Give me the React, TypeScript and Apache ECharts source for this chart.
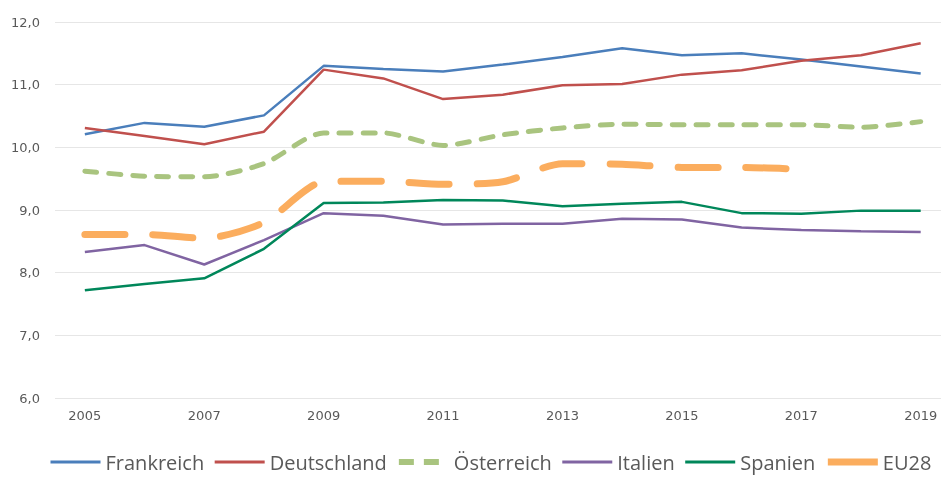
import React, { useEffect, useRef } from "react";
import * as echarts from "echarts";

const years = [2005, 2006, 2007, 2008, 2009, 2010, 2011, 2012, 2013, 2014, 2015, 2016, 2017, 2018, 2019];
const yearLabels = [2005, 2007, 2009, 2011, 2013, 2015, 2017, 2019];
const frankreich = [10.21, 10.39, 10.33, 10.51, 11.3, 11.25, 11.21, 11.32, 11.44, 11.58, 11.47, 11.5, 11.4, 11.29, 11.18];
const deutschland = [10.31, 10.18, 10.05, 10.25, 11.24, 11.1, 10.77, 10.84, 10.99, 11.01, 11.16, 11.23, 11.38, 11.47, 11.66];
const oesterreich = [9.62, 9.54, 9.53, 9.74, 10.23, 10.23, 10.03, 10.2, 10.31, 10.37, 10.36, 10.36, 10.36, 10.32, 10.41];
const italien = [8.33, 8.44, 8.13, 8.52, 8.95, 8.91, 8.77, 8.78, 8.78, 8.86, 8.85, 8.72, 8.68, 8.66, 8.65];
const spanien = [7.72, 7.82, 7.91, 8.38, 9.11, 9.12, 9.16, 9.15, 9.06, 9.1, 9.13, 8.95, 8.94, 8.99, 8.99];
const eu28 = [8.61, 8.61, 8.55, 8.8, 9.45, 9.46, 9.41, 9.45, 9.74, 9.73, 9.68, 9.68, 9.65, null, null];

const pairs = (vals: (number | null)[]) =>
  vals.map((v, i) => [years[i], v]).filter((p) => p[1] !== null);

export default function App() {
  const ref = useRef<HTMLDivElement>(null);
  useEffect(() => {
    if (!ref.current) return;
    const chart = echarts.init(ref.current, undefined, { renderer: "svg" });
    const solid = (name: string, data: (number | null)[], color: string) => ({
      name,
      type: "line",
      data: pairs(data),
      symbol: "none",
      lineStyle: { color, width: 2.5 },
      itemStyle: { color },
    });
    chart.setOption({
      animation: false,
      grid: { left: 55, right: 0, top: 22, bottom: 79 },
      xAxis: {
        type: "value",
        min: 2004.5,
        max: 2019.34,
        splitLine: { show: false },
        axisLine: { show: false },
        axisTick: { show: false },
        axisLabel: {
          customValues: yearLabels,
          margin: 11,
          color: "#595959",
          fontSize: 13,
          fontFamily: "DejaVu Sans",
          formatter: (v: number) => String(v),
        },
      },
      yAxis: {
        type: "value",
        min: 6,
        max: 12,
        interval: 1,
        axisLine: { show: false },
        axisTick: { show: false },
        splitLine: { lineStyle: { color: "#e6e6e6", width: 1 } },
        axisLabel: {
          margin: 15,
          color: "#595959",
          fontSize: 13,
          fontFamily: "DejaVu Sans",
          formatter: (v: number) => v.toFixed(1).replace(".", ","),
        },
      },
      legend: {
        left: 49,
        top: 452,
        padding: 0,
        itemWidth: 50,
        itemHeight: 14,
        itemGap: 9,
        itemStyle: { opacity: 0 },
        textStyle: { color: "#595959", fontSize: 20, lineHeight: 20, fontFamily: "Open Sans" },
        data: [
          { name: "Frankreich", lineStyle: { width: 3 } },
          { name: "Deutschland", lineStyle: { width: 3 } },
          { name: "Österreich", lineStyle: { width: 6, type: [15, 10], cap: "butt" } },
          { name: "Italien", lineStyle: { width: 3 } },
          { name: "Spanien", lineStyle: { width: 3 } },
          { name: "EU28", lineStyle: { width: 7, type: "solid", cap: "butt" } },
        ],
      },
      series: [
        solid("Frankreich", frankreich, "#4a7ebb"),
        solid("Deutschland", deutschland, "#c0504d"),
        {
          name: "Österreich",
          type: "line",
          data: pairs(oesterreich),
          symbol: "none",
          smooth: 0.25,
          lineStyle: { color: "#a9c47f", width: 5, type: [12, 12], cap: "round" },
          itemStyle: { color: "#a9c47f" },
        },
        solid("Italien", italien, "#8064a2"),
        solid("Spanien", spanien, "#00875a"),
        {
          name: "EU28",
          type: "line",
          data: pairs(eu28),
          symbol: "none",
          smooth: 0.25,
          lineStyle: { color: "#fbad5e", width: 7, type: [40, 28], cap: "round" },
          itemStyle: { color: "#fbad5e" },
        },
      ],
    });
    return () => chart.dispose();
  }, []);
  return (
    <div
      ref={ref}
      style={{ position: "fixed", left: 0, top: 0, width: 941, height: 477, overflow: "hidden" }}
    />
  );
}
